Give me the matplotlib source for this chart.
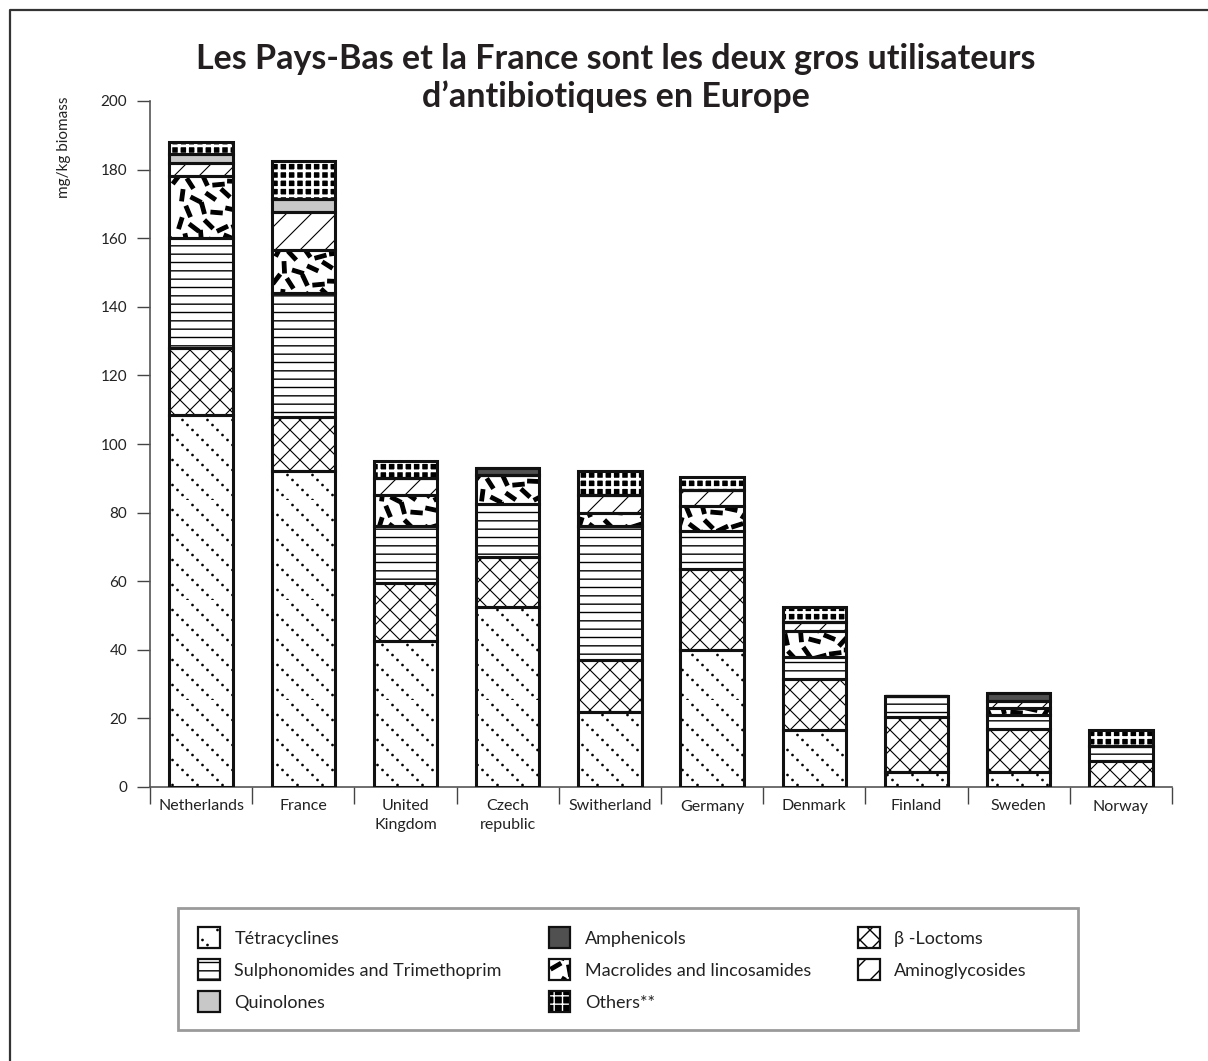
import numpy as np
import matplotlib
matplotlib.use("Agg")
import matplotlib.pyplot as plt
import matplotlib.hatch as mhatch
from matplotlib.path import Path
from matplotlib.patches import Patch, Rectangle
from matplotlib.lines import Line2D

# ---------------- data ----------------
countries = ["Netherlands", "France", "United\nKingdom", "Czech\nrepublic", "Switherland",
             "Germany", "Denmark", "Finland", "Sweden", "Norway"]

tetracyclines   = [108.5, 92.0, 42.5, 52.5, 22.0, 40.0, 16.5, 4.5, 4.5, 0.0]
beta_lactams    = [19.5, 16.0, 17.0, 14.5, 15.0, 23.5, 15.0, 16.0, 12.5, 7.5]
sulphonamides   = [32.0, 36.0, 16.5, 15.5, 39.0, 11.0, 6.5, 6.0, 4.0, 4.5]
macrolides      = [18.0, 12.5, 9.0, 8.5, 4.0, 7.5, 7.5, 0.0, 2.0, 0.0]
aminoglycosides = [4.0, 11.0, 5.0, 0.0, 5.0, 4.5, 2.5, 0.0, 2.0, 0.0]
quinolones      = [2.5, 4.0, 0.0, 0.0, 0.0, 0.0, 0.0, 0.0, 0.0, 0.0]
amphenicols     = [0.0, 0.0, 0.0, 2.0, 0.0, 0.0, 0.0, 0.0, 2.5, 0.0]
others          = [3.5, 11.0, 5.0, 0.0, 7.0, 4.0, 4.5, 0.0, 0.0, 4.5]

yticks = list(range(0, 201, 20))
title = "Les Pays-Bas et la France sont les deux gros utilisateurs\nd\u2019antibiotiques en Europe"
ylabel = "mg/kg biomass"


# ---------------- custom hatch textures ----------------
class DiagDots(mhatch.HatchPatternBase):
    """'*' -> dotted diagonal lines (top-left to bottom-right)."""
    def __init__(self, hatch, density):
        n = hatch.count('*')
        self.centers = []
        if n:
            nl, nd = 4, 20
            for k in range(nl):
                for j in range(nd):
                    xx = (j + 0.5) / nd
                    yy = ((k + 0.5) / nl - xx) % 1.0
                    self.centers.append((xx, yy))
        self.shape = Path.unit_circle()
        self.size = 0.0065
        self.num_vertices = len(self.centers) * len(self.shape.vertices)

    def set_vertices_and_codes(self, vertices, codes):
        nv = len(self.shape.vertices)
        for i, (cx, cy) in enumerate(self.centers):
            vertices[i * nv:(i + 1) * nv] = self.shape.vertices * self.size + (cx, cy)
            codes[i * nv:(i + 1) * nv] = self.shape.codes


class Dashes(mhatch.HatchPatternBase):
    """'O' -> scattered thick short dashes."""
    def __init__(self, hatch, density):
        n = hatch.count('O')
        self.polys = []
        if n:
            a1, a2 = 0.7548776662, 0.5698402910
            hl, hw = 0.055, 0.017
            for i in range(48):
                cx = (0.5 + i * a1) % 1.0
                cy = (0.5 + i * a2) % 1.0
                ang = (i * 2.399963) % np.pi
                d = np.array([np.cos(ang), np.sin(ang)])
                nrm = np.array([-d[1], d[0]])
                base = np.array([-hl * d - hw * nrm, hl * d - hw * nrm,
                                 hl * d + hw * nrm, -hl * d + hw * nrm, -hl * d - hw * nrm])
                for ox in (-1, 0, 1):
                    for oy in (-1, 0, 1):
                        self.polys.append(base + (cx + ox, cy + oy))
        self.num_vertices = 5 * len(self.polys)

    def set_vertices_and_codes(self, vertices, codes):
        cc = [Path.MOVETO, Path.LINETO, Path.LINETO, Path.LINETO, Path.CLOSEPOLY]
        for i, p in enumerate(self.polys):
            vertices[i * 5:(i + 1) * 5] = p
            codes[i * 5:(i + 1) * 5] = cc


def _diag_segments(n, up=True, down=True):
    segs = []
    if up:
        for k in range(-n, n + 1):
            c = k / n
            segs.append(((0.0, c), (1.0, 1.0 + c)))
    if down:
        for k in range(0, 2 * n + 1):
            c = k / n
            segs.append(((0.0, c), (1.0, c - 1.0)))
    return segs


class _DiagBase(mhatch.HatchPatternBase):
    char = ''
    nper = 5
    up = True
    down = True

    def __init__(self, hatch, density):
        self.segs = _diag_segments(self.nper, self.up, self.down) if hatch.count(self.char) else []
        self.num_vertices = 2 * len(self.segs)

    def set_vertices_and_codes(self, vertices, codes):
        for i, (a, b) in enumerate(self.segs):
            vertices[2 * i] = a
            vertices[2 * i + 1] = b
            codes[2 * i] = Path.MOVETO
            codes[2 * i + 1] = Path.LINETO


class Cross5(_DiagBase):
    """'o' -> diagonal crosshatch, 20 px pitch."""
    char = 'o'
    nper = 5


class Slash4(_DiagBase):
    """'.' -> single diagonal '/', 25 px pitch."""
    char = '.'
    nper = 4
    down = False


mhatch._hatch_types[:] = [mhatch.HorizontalHatch, mhatch.VerticalHatch,
                          mhatch.NorthEastHatch, mhatch.SouthEastHatch,
                          DiagDots, Dashes, Cross5, Slash4]

# ---------------- style ----------------
plt.rcParams['font.family'] = ['Lato', 'DejaVu Sans']

series = [
    ("T\u00e9tracyclines", tetracyclines, dict(fc='white', hc='black', hatch='*', hlw=1.0)),
    ("\u03b2 -Loctoms", beta_lactams, dict(fc='white', hc='black', hatch='o', hlw=0.8)),
    ("Sulphonomides and Trimethoprim", sulphonamides, dict(fc='white', hc='black', hatch='--', hlw=1.0)),
    ("Macrolides and lincosamides", macrolides, dict(fc='white', hc='black', hatch='O', hlw=1.0)),
    ("Aminoglycosides", aminoglycosides, dict(fc='white', hc='black', hatch='.', hlw=0.8)),
    ("Quinolones", quinolones, dict(fc='#c8c8c8', hc='#c8c8c8', hatch=None, hlw=1.0)),
    ("Amphenicols", amphenicols, dict(fc='#505050', hc='#505050', hatch=None, hlw=1.0)),
    ("Others**", others, dict(fc='black', hc='white', hatch='++', hlw=2.0)),
]

W, H = 1208, 1061
fig = plt.figure(figsize=(W / 100, H / 100), dpi=100)
ax = fig.add_axes([150 / W, 1 - 787 / H, 1022 / W, 686 / H])

x = np.arange(len(countries))
width = 0.62
bottom = np.zeros(len(countries))
handles = {}
for name, vals, st in series:
    vals = np.asarray(vals, dtype=float)
    with plt.rc_context({'hatch.linewidth': st['hlw']}):
        bars = ax.bar(x, vals, width, bottom=bottom, color=st['fc'], edgecolor=st['hc'],
                      hatch=st['hatch'], linewidth=0, zorder=2)
        for p in bars:
            if hasattr(p, 'set_hatch_linewidth'):
                p.set_hatch_linewidth(st['hlw'])
        hp = Patch(facecolor=st['fc'], edgecolor=st['hc'], hatch=st['hatch'], linewidth=0)
        if hasattr(hp, 'set_hatch_linewidth'):
            hp.set_hatch_linewidth(st['hlw'])
    ax.bar(x, vals, width, bottom=bottom, facecolor='none', edgecolor='#111111',
           linewidth=2.2, zorder=3)
    handles[name] = (hp, Patch(facecolor='none', edgecolor='#111111', linewidth=1.6))
    bottom += vals

ax.set_xlim(-0.5, len(countries) - 0.5)
ax.set_ylim(0, 200)
ax.set_yticks(yticks)
ax.set_xticks(x)
ax.set_xticklabels(countries, fontsize=11.5, color='#222222', linespacing=1.4)
ax.set_xticks(np.arange(len(countries) + 1) - 0.5, minor=True)
ax.tick_params(axis='x', which='major', length=0, pad=9)
ax.tick_params(axis='x', which='minor', length=12, width=1.0, color='#444444', direction='out')
ax.tick_params(axis='y', length=9.5, width=1.0, color='#444444', direction='out',
               labelsize=11, labelcolor='#222222', pad=7)
for s in ('top', 'right'):
    ax.spines[s].set_visible(False)
for s in ('left', 'bottom'):
    ax.spines[s].set_color('#555555')
    ax.spines[s].set_linewidth(1.2)

fig.text(64 / W, 1 - 97 / H, ylabel, rotation=90, ha='center', va='top', fontsize=11,
         color='#222222')
fig.text(616 / W, 1 - 43 / H, title, ha='center', va='top', fontsize=24.5, fontweight='bold',
         color='#231f20', linespacing=1.2)

# legend
order = ["T\u00e9tracyclines", "Sulphonomides and Trimethoprim", "Quinolones",
         "Amphenicols", "Macrolides and lincosamides", "Others**",
         "\u03b2 -Loctoms", "Aminoglycosides"]
leg = fig.legend([handles[k] for k in order], order, loc='upper left',
                 bbox_to_anchor=(182 / W, 1 - 911 / H), ncol=3, frameon=False,
                 fontsize=13, handlelength=1.2, handleheight=1.4, handletextpad=0.8,
                 columnspacing=2.6, labelspacing=0.62)
for t in leg.get_texts():
    t.set_color('#222222')

fig.add_artist(Rectangle((178 / W, 1 - 1030 / H), 900 / W, 122 / H, transform=fig.transFigure,
                         fill=False, edgecolor='#9a9a9a', linewidth=2.0))
fig.add_artist(Line2D([10 / W, 10 / W, 1.0], [0.0, 1 - 10 / H, 1 - 10 / H],
                      transform=fig.transFigure, color='#333333', linewidth=1.6))

fig.savefig("out.png", dpi=100)
